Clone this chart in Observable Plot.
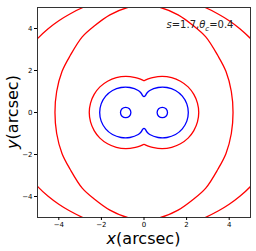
<!DOCTYPE html>
<html>
<head>
<meta charset="utf-8">
<script src="https://cdn.jsdelivr.net/npm/d3@7"></script>
<script src="https://cdn.jsdelivr.net/npm/@observablehq/plot@0.6"></script>
<style>
  html, body { margin: 0; padding: 0; background: #fff; }
  svg { display: block; }
</style>
</head>
<body>
<div id="chart"></div>
<script>
// Tick values
const xTicks = [-4, -2, 0, 2, 4];
const yTicks = [-4, -2, 0, 2, 4];

// First-quadrant points (x >= 0, y >= 0) of each symmetric curve,
// ordered from the x-axis to the y-axis.
const redOuterQ1 = [[6.44,0],[6.2,1.5],[6.0,2.03],[5.5,2.9],[5.0,3.52],[4.5,3.99],[4.0,4.37],[3.5,4.68],[2.87,5.0],[2.0,5.31],[1.0,5.51],[0,5.58]];
const redMiddleQ1 = [[4.18,0],[4.10,1.0],[3.85,1.95],[3.47,2.70],[2.9,3.6],[2.32,4.13],[1.6,4.65],[0.78,5.0],[0,5.12]];
const redPeanutQ1 = [[2.57,0],[2.51,0.45],[2.34,0.86],[2.07,1.22],[1.71,1.49],[1.30,1.66],[0.85,1.72],[0.40,1.66],[0.2,1.60],[0.06,1.54],[0,1.52]];
const bluePeanutQ1 = [[2.08,0],[2.01,0.41],[1.80,0.78],[1.48,1.05],[1.08,1.19],[0.66,1.19],[0.27,1.05],[0.14,0.93],[0.06,0.80],[0,0.76]];
// Small blue rings
const ringX = [-0.86, 0.86];
const ringY = [0, 0];
// Annotation
const annText = "s=1.7,θc=0.4";

function closedCurve(q, id) {
  const q2 = q.slice().reverse().map(([x, y]) => [-x, y]);
  const q3 = q.map(([x, y]) => [-x, -y]);
  const q4 = q.slice().reverse().map(([x, y]) => [x, -y]);
  const pts = q.concat(q2.slice(1), q3.slice(1), q4.slice(1, -1));
  return pts.map(([x, y]) => ({x, y, id}));
}

const redData = [
  ...closedCurve(redOuterQ1, "outer"),
  ...closedCurve(redMiddleQ1, "middle"),
  ...closedCurve(redPeanutQ1, "peanut")
];
const blueData = closedCurve(bluePeanutQ1, "bpeanut");
const rings = ringX.map((x, i) => ({x, y: ringY[i]}));

const fmt = d => d < 0 ? "\u2212" + (-d) : String(d);

const chart = Plot.plot({
  width: 256,
  height: 251,
  marginLeft: 37,
  marginRight: 6,
  marginTop: 7,
  marginBottom: 34,
  style: {fontFamily: "DejaVu Sans", fontSize: "7px", color: "#000", background: "#fff"},
  x: {domain: [-5, 5]},
  y: {domain: [-5, 5]},
  marks: [
    Plot.line(redData, {x: "x", y: "y", z: "id", stroke: "#ff0000", strokeWidth: 1.3, curve: "catmull-rom-closed", clip: true}),
    Plot.line(blueData, {x: "x", y: "y", z: "id", stroke: "#0000ff", strokeWidth: 1.3, curve: "catmull-rom-closed", clip: true}),
    Plot.dot(rings, {x: "x", y: "y", r: 5.2, stroke: "#0000ff", strokeWidth: 1.3, fill: "none"}),
    Plot.frame({stroke: "#333", strokeWidth: 1}),
    Plot.axisX(xTicks, {tickSize: 3, tickPadding: 2, tickFormat: fmt, label: null, fontSize: 7}),
    Plot.axisY(yTicks, {tickSize: 3, tickPadding: 2, tickFormat: fmt, label: null, fontSize: 7}),
    Plot.text([annText], {x: 4.2, y: 4.17, text: d => d, textAnchor: "end", fontSize: 10, fill: "#222"})
  ]
});

document.getElementById("chart").appendChild(chart);

// Math-style formatting for the annotation
const svg = d3.select(chart);
svg.selectAll('g[aria-label="text"] text').each(function() {
  const t = d3.select(this);
  t.text(null);
  t.append("tspan").attr("font-style", "italic").text("s");
  t.append("tspan").text("=1.7,");
  t.append("tspan").attr("font-style", "italic").text("θ");
  t.append("tspan").attr("font-style", "italic").attr("font-size", 7).attr("dy", 2.5).text("c");
  t.append("tspan").attr("dy", -2.5).text("=0.4");
});

// Axis labels
const xl = svg.append("text")
  .attr("x", 143.5).attr("y", 244)
  .attr("text-anchor", "middle")
  .attr("font-size", 16)
  .attr("font-family", "DejaVu Sans")
  .attr("fill", "#000");
xl.append("tspan").attr("font-style", "italic").text("x");
xl.append("tspan").text("(arcsec)");

const yl = svg.append("text")
  .attr("transform", "translate(18,112) rotate(-90)")
  .attr("text-anchor", "middle")
  .attr("font-size", 16)
  .attr("font-family", "DejaVu Sans")
  .attr("fill", "#000");
yl.append("tspan").attr("font-style", "italic").text("y");
yl.append("tspan").text("(arcsec)");
</script>
</body>
</html>
